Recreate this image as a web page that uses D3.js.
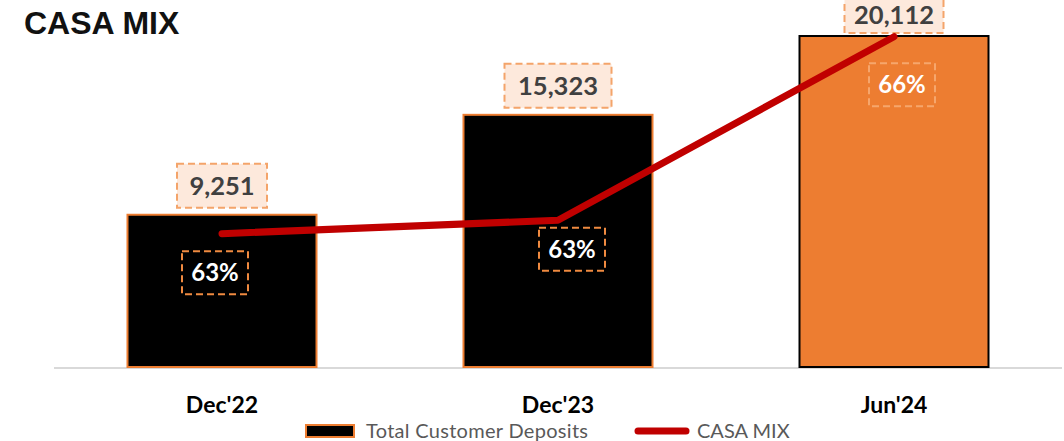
<!DOCTYPE html>
<html>
<head>
<meta charset="utf-8">
<script src="https://cdn.jsdelivr.net/npm/d3@7"></script>
<style>
  body { margin: 0; background: #fff; }
  svg { display: block; }
</style>
</head>
<body>
<svg id="chart" width="1064" height="441"></svg>
<script>
// data
var periods = ["Dec'22", "Dec'23", "Jun'24"];
var deposits = [9251, 15323, 20112];
var casaMix = [62.78, 63.0, 66.0];
var casaLabels = ["63%", "63%", "66%"];
var seriesNames = ["Total Customer Deposits", "CASA MIX"];

var W = 1064, H = 441;
var base = 367;
var svg = d3.select("#chart");

var x = d3.scaleBand()
    .domain(periods)
    .range([54, 1062])
    .paddingInner(0.4375)
    .paddingOuter(0.21875);

var y = d3.scaleLinear().domain([0, 22300]).range([base, 0]);
var y2 = d3.scaleLinear().domain([60.6, 66.6]).range([base, 0]);

var fmt = d3.format(",");
var orange = "#ED7D31";

// title
svg.append("text")
    .attr("x", 24).attr("y", 34)
    .attr("font-family", "Liberation Sans, Arial, sans-serif")
    .attr("font-weight", "bold")
    .attr("font-size", 32)
    .attr("fill", "#111")
    .text("CASA MIX");

// axis line
svg.append("line")
    .attr("x1", 54).attr("x2", 1062)
    .attr("y1", base + 1).attr("y2", base + 1)
    .attr("stroke", "#d9d9d9").attr("stroke-width", 2);

// bars
svg.selectAll(".bar")
    .data(deposits)
    .enter().append("rect")
    .attr("class", "bar")
    .attr("x", function (d, i) { return x(periods[i]); })
    .attr("y", function (d) { return y(d); })
    .attr("width", x.bandwidth())
    .attr("height", function (d) { return base - y(d); })
    .attr("fill", function (d, i) { return i == 2 ? orange : "#000"; })
    .attr("stroke", function (d, i) { return i == 2 ? "#000" : orange; })
    .attr("stroke-width", 2);

// value labels above bars (last one pushed down so it stays on the page)
var vw = [90, 107, 99];
var vdy = [0, 0, 4];
var vtxt = [0, 0, 4];
var vl = svg.selectAll(".vlab")
    .data(deposits)
    .enter().append("g")
    .attr("class", "vlab")
    .attr("transform", function (d, i) {
        return "translate(" + (x(periods[i]) + x.bandwidth() / 2) + "," + (y(d) - 29 + vdy[i]) + ")";
    });

vl.append("rect")
    .attr("x", function (d, i) { return -vw[i] / 2; })
    .attr("y", -22)
    .attr("width", function (d, i) { return vw[i]; })
    .attr("height", 44)
    .attr("fill", "#FDE9DC")
    .attr("stroke", "#F4A46A")
    .attr("stroke-width", 2)
    .attr("stroke-dasharray", "7,4");

vl.append("text")
    .attr("text-anchor", "middle")
    .attr("y", function (d, i) { return vtxt[i]; })
    .attr("dy", "0.36em")
    .attr("font-family", "Lato, sans-serif")
    .attr("font-weight", "bold")
    .attr("font-size", 25.5)
    .attr("fill", "#404040")
    .text(function (d) { return fmt(d); });

// CASA line
var line = d3.line()
    .x(function (d, i) { return x(periods[i]) + x.bandwidth() / 2; })
    .y(function (d) { return y2(d); });

svg.append("path")
    .datum(casaMix)
    .attr("d", line)
    .attr("fill", "none")
    .attr("stroke", "#C00000")
    .attr("stroke-width", 7)
    .attr("stroke-linecap", "round")
    .attr("stroke-linejoin", "round");

// percent labels (manual nudges like in the deck)
var nudge = [[-7, 39], [14, 29], [8, 48]];
var pl = svg.selectAll(".plab")
    .data(casaMix)
    .enter().append("g")
    .attr("class", "plab")
    .attr("transform", function (d, i) {
        var cx = x(periods[i]) + x.bandwidth() / 2 + nudge[i][0];
        return "translate(" + cx + "," + (y2(d) + nudge[i][1]) + ")";
    });

pl.append("rect")
    .attr("x", -33).attr("y", -21.5)
    .attr("width", 66).attr("height", 43)
    .attr("fill", "none")
    .attr("stroke", function (d, i) { return i == 2 ? "#F6A66C" : "#F08A40"; })
    .attr("stroke-width", 2)
    .attr("stroke-dasharray", "7,4");

pl.append("text")
    .attr("text-anchor", "middle")
    .attr("dy", "0.36em")
    .attr("font-family", "Lato, sans-serif")
    .attr("font-weight", "bold")
    .attr("font-size", 24)
    .attr("fill", "#fff")
    .text(function (d, i) { return casaLabels[i]; });

// category labels
svg.selectAll(".cat")
    .data(periods)
    .enter().append("text")
    .attr("class", "cat")
    .attr("x", function (d) { return x(d) + x.bandwidth() / 2; })
    .attr("y", 413)
    .attr("text-anchor", "middle")
    .attr("font-family", "Lato, sans-serif")
    .attr("font-weight", "bold")
    .attr("font-size", 23)
    .attr("fill", "#000")
    .text(function (d) { return d; });

// legend
var lg = svg.append("g").attr("transform", "translate(0,431)");
lg.append("rect")
    .attr("x", 306).attr("y", -6)
    .attr("width", 48).attr("height", 12)
    .attr("fill", "#000")
    .attr("stroke", orange).attr("stroke-width", 2);
lg.append("text")
    .attr("x", 366).attr("dy", "0.35em")
    .attr("font-family", "Lato, sans-serif")
    .attr("font-size", 20)
    .attr("letter-spacing", 0.3)
    .attr("fill", "#595959")
    .text(seriesNames[0]);
lg.append("line")
    .attr("x1", 638).attr("x2", 686)
    .attr("stroke", "#C00000").attr("stroke-width", 7)
    .attr("stroke-linecap", "round");
lg.append("text")
    .attr("x", 697).attr("dy", "0.35em")
    .attr("font-family", "Lato, sans-serif")
    .attr("font-size", 20)
    .attr("fill", "#595959")
    .text(seriesNames[1]);
</script>
</body>
</html>
